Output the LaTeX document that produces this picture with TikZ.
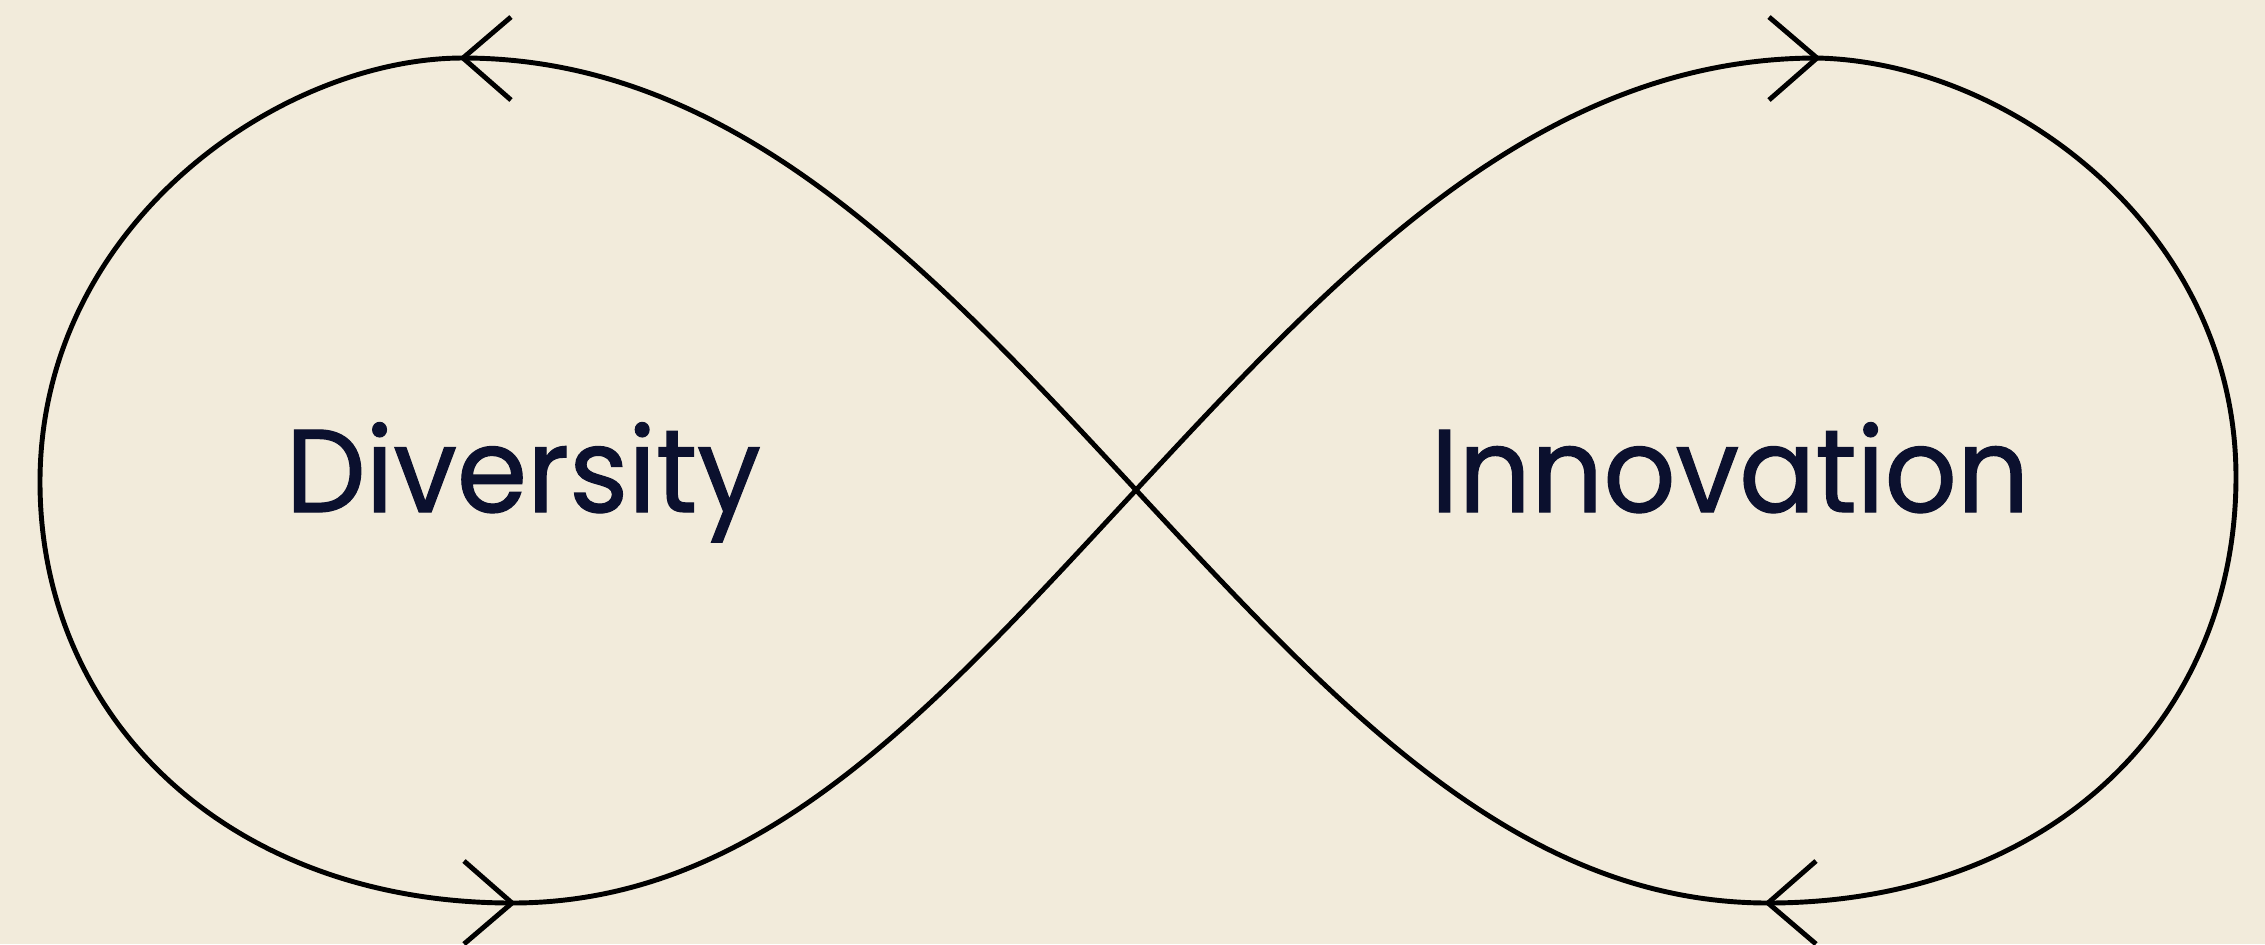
\documentclass[tikz,border=0pt]{standalone}
\usepackage{fontspec}
\setmainfont{Poppins}[FakeStretch=0.96,FakeBold=1]
\definecolor{bg}{RGB}{242,235,219}
\definecolor{ink}{RGB}{11,16,46}
\begin{document}
\begin{tikzpicture}[x=0.01cm,y=-0.01cm,
  loopline/.style={line width=1.4pt,black},
  vhead/.style={line width=1.4pt,black,miter limit=10},
  label/.style={font=\fontsize{33.5}{40}\selectfont,text=ink,inner sep=0pt,anchor=base west}]
\fill[bg] (0,0) rectangle (2265,944);
\useasboundingbox (0,0) rectangle (2265,944);
% key points
\coordinate (C)  at (1136,490);
\coordinate (TR) at (1817,58);
\coordinate (R)  at (2236,477);
\coordinate (BR) at (1768,903);
\coordinate (TL) at (463,58);
\coordinate (L)  at (40,482);
\coordinate (BL) at (512,903);
% infinity curve
\draw[loopline] (C)
  .. controls (1340,270) and (1540,58) .. (TR)
  .. controls (2010,62) and (2236,230) .. (R)
  .. controls (2236,720) and (2050,903) .. (BR)
  .. controls (1520,903) and (1340,710) .. (C)
  .. controls (932,270) and (736,58) .. (TL)
  .. controls (280,58) and (40,225) .. (L)
  .. controls (40,720) and (230,903) .. (BL)
  .. controls (760,903) and (932,710) .. (C);
% arrow heads
\draw[vhead] (TL) ++(48,-41) -- (TL) -- ++(48,42);
\draw[vhead] (BL) ++(-48,-42) -- (BL) -- ++(-48,41);
\draw[vhead] (TR) ++(-48,-41) -- (TR) -- ++(-48,42);
\draw[vhead] (BR) ++(48,-42) -- (BR) -- ++(48,41);
% labels
\node[label] (div) at (285,512) {Diversity};
\node[label] (inn) at (1430,512) {Innovation};
\end{tikzpicture}
\end{document}
